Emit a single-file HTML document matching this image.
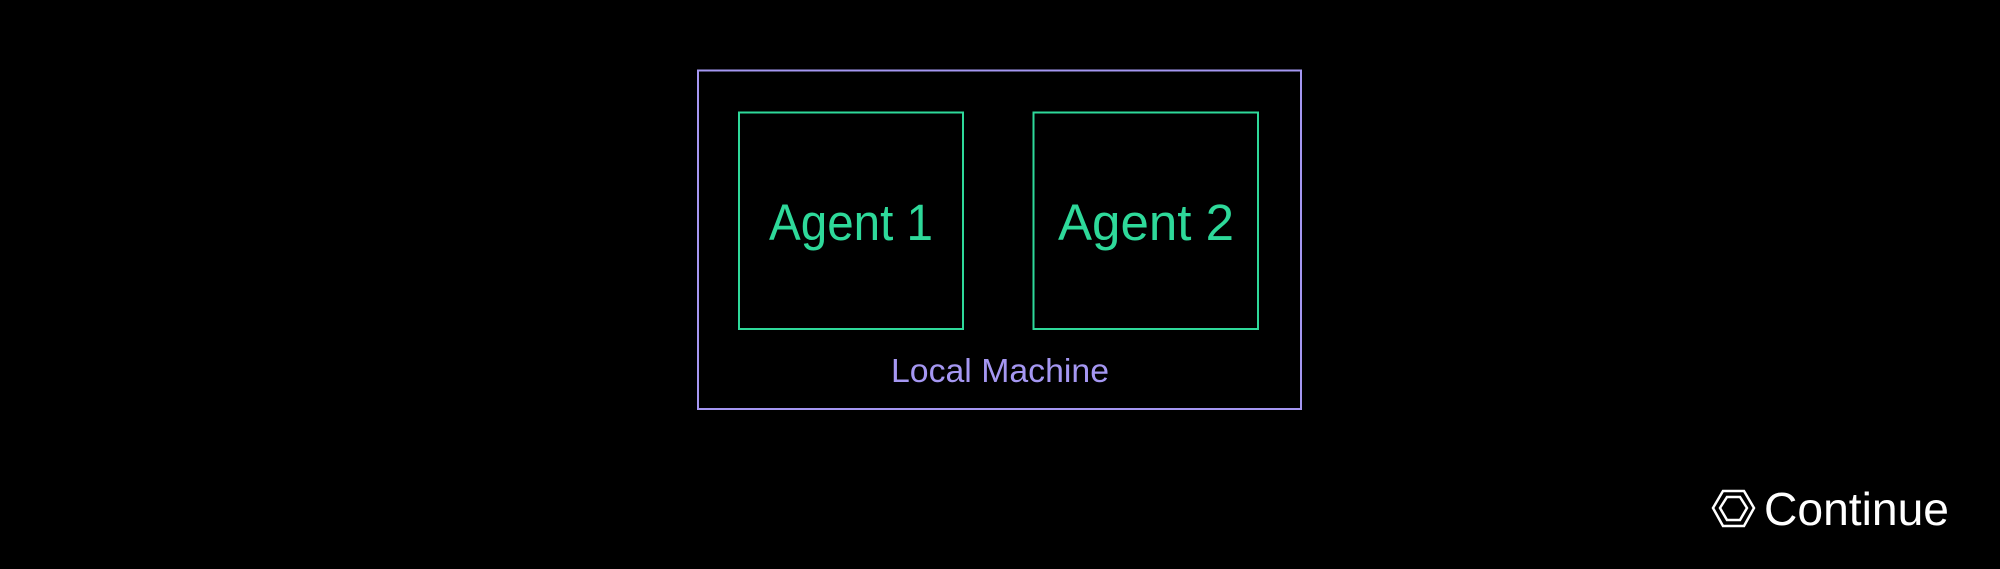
<!DOCTYPE html>
<html><head><meta charset="utf-8"><style>html,body{margin:0;padding:0;background:#000;}svg{display:block}</style></head>
<body>
<svg width="2000" height="569" viewBox="0 0 2000 569" xmlns="http://www.w3.org/2000/svg">
<rect width="2000" height="569" fill="#000"/>
<rect x="698" y="70.5" width="603" height="338.5" fill="none" stroke="#a597f2" stroke-width="2"/>
<rect x="739" y="112.5" width="224" height="216.5" fill="none" stroke="#2ed99a" stroke-width="2"/>
<rect x="1033.5" y="112.5" width="224.5" height="216.5" fill="none" stroke="#2ed99a" stroke-width="2"/>
<text x="769" y="240" font-family="Liberation Sans, sans-serif" font-size="51" fill="#2ed99a" textLength="164" lengthAdjust="spacingAndGlyphs">Agent 1</text>
<text x="1058" y="240" font-family="Liberation Sans, sans-serif" font-size="51" fill="#2ed99a" textLength="176" lengthAdjust="spacingAndGlyphs">Agent 2</text>
<text x="891" y="382" font-family="Liberation Sans, sans-serif" font-size="33" fill="#a597f2" textLength="218" lengthAdjust="spacingAndGlyphs">Local Machine</text>
<g fill="none" stroke="#fff" stroke-width="2.5">
<polygon points="1723,491 1744,491 1754,508 1744,526 1723,526 1713,508"/>
<polygon points="1727,497 1740,497 1747,508 1740,520 1727,520 1720,508"/>
</g>
<text x="1764" y="525" font-family="Liberation Sans, sans-serif" font-size="46" fill="#fff" textLength="185" lengthAdjust="spacingAndGlyphs">Continue</text>
</svg>
</body></html>
